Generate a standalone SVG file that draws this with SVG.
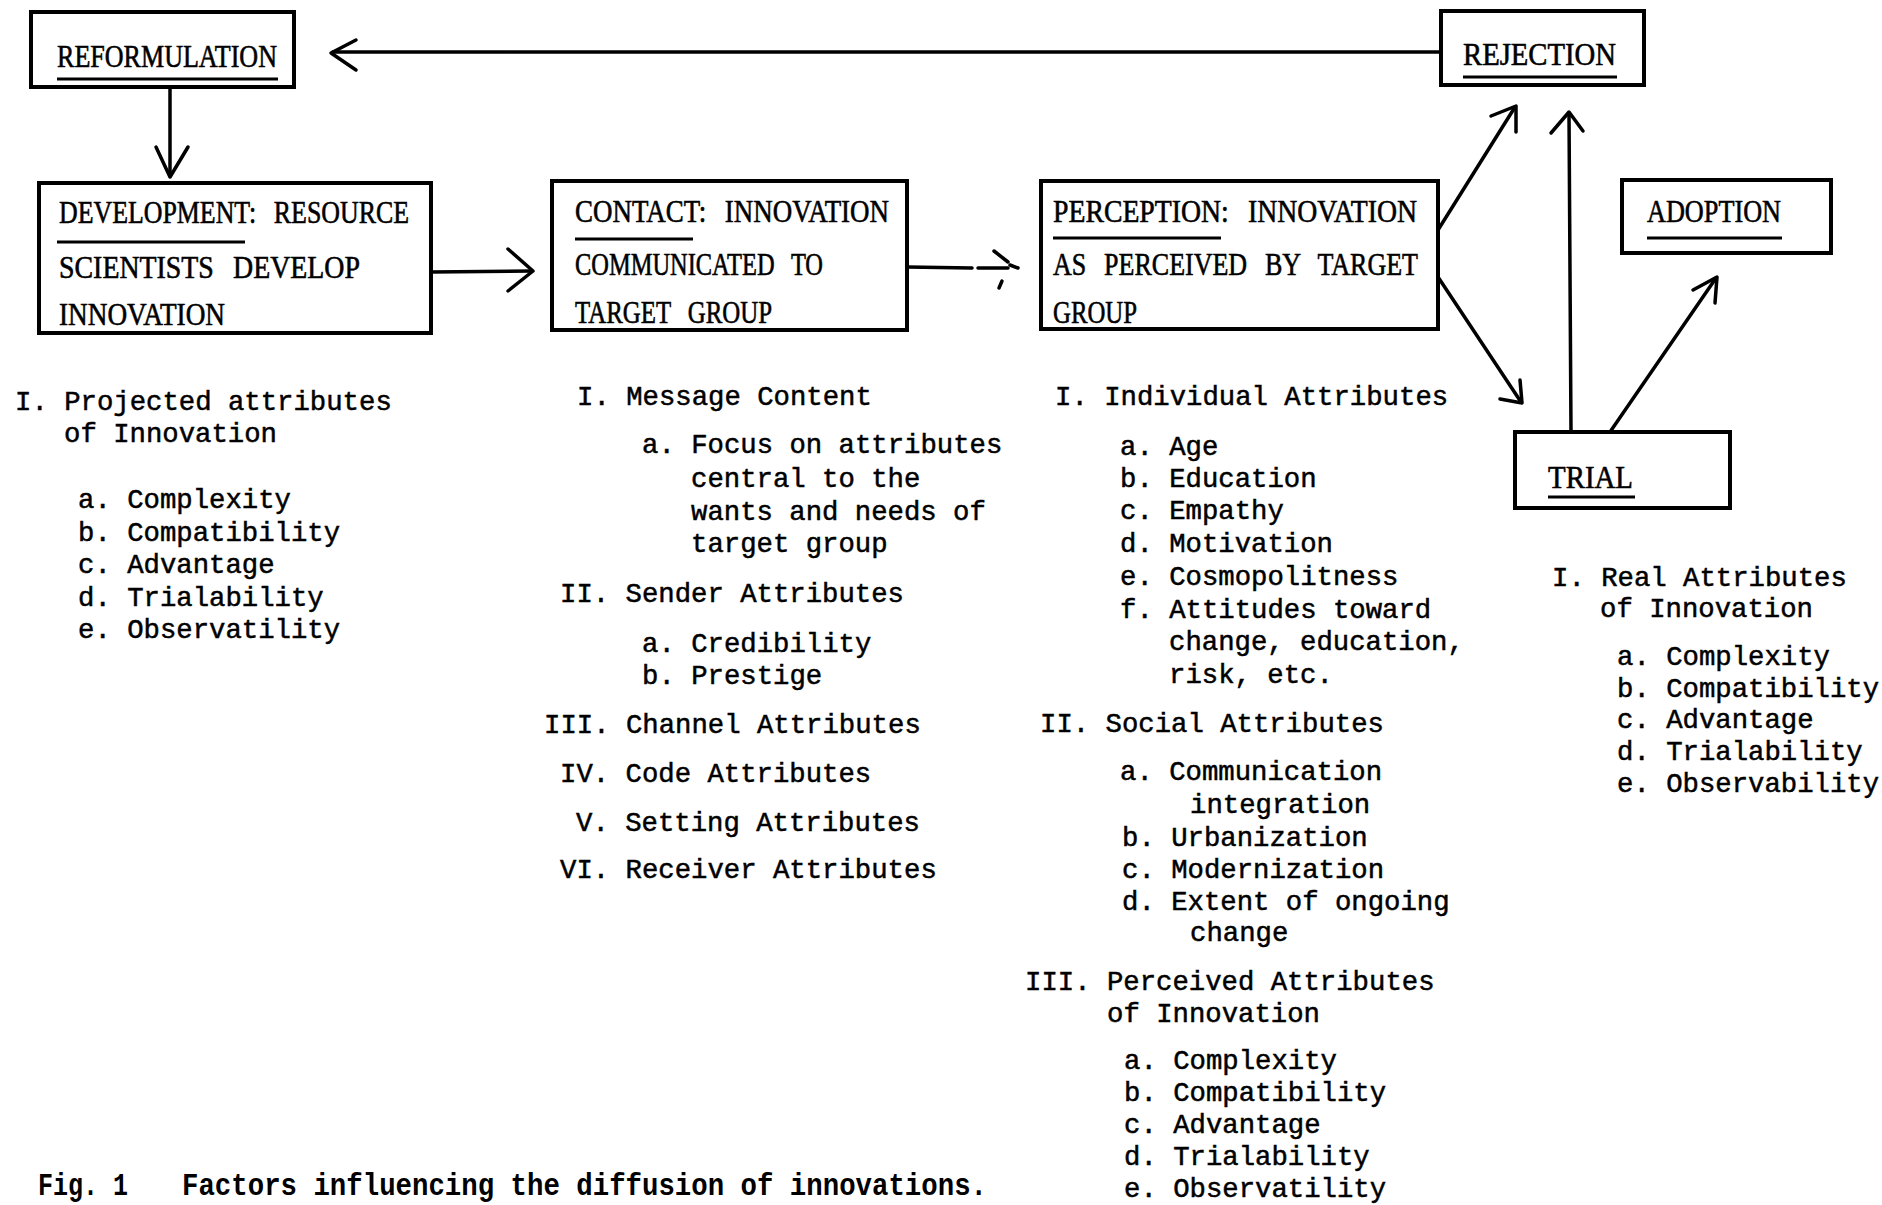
<svg xmlns="http://www.w3.org/2000/svg" width="1882" height="1205" viewBox="0 0 1882 1205">
<style>
.box{fill:none;stroke:#000;stroke-width:4;stroke-linejoin:miter}
.bt{font-family:"Liberation Serif",serif;font-size:32px;fill:#000;stroke:#000;stroke-width:0.6;word-spacing:14px}
.ul{stroke:#000;stroke-width:3;fill:none}
.lt{font-family:"Liberation Mono",monospace;font-size:27.3px;fill:#000;stroke:#000;stroke-width:0.5;white-space:pre}
.cap{font-family:"Liberation Mono",monospace;font-size:32px;font-weight:bold;fill:#000}
.cn{fill:none;stroke:#000;stroke-width:3.5;stroke-linecap:round;stroke-linejoin:round}
</style>
<rect x="0" y="0" width="1882" height="1205" fill="#fff"/>

<g id="connectors">
  <!-- rejection -> reformulation -->
  <path class="cn" d="M1441,52 L333,52"/>
  <path class="cn" d="M356,40 L331,53 L356,70"/>
  <!-- reformulation -> development -->
  <path class="cn" d="M170,87 L170,176"/>
  <path class="cn" d="M156,147 L170,177 L188,147"/>
  <!-- development -> contact -->
  <path class="cn" d="M431,272 L531,271"/>
  <path class="cn" d="M508,249 L533,271 L508,291"/>
  <!-- contact -> perception -->
  <path class="cn" d="M907,267 L972,268"/>
  <path class="cn" d="M978,268 L1008,268"/>
  <path class="cn" d="M994,251 L1008,262"/>
  <path class="cn" d="M1010,265 L1018,268"/>
  <path class="cn" d="M1002,281 L999,288"/>
  <!-- perception -> rejection -->
  <path class="cn" d="M1438,230 L1515,107"/>
  <path class="cn" d="M1491,116 L1516,106 L1516,132"/>
  <!-- perception -> trial -->
  <path class="cn" d="M1438,277 L1521,402"/>
  <path class="cn" d="M1500,399 L1522,403 L1520,380"/>
  <!-- trial -> rejection -->
  <path class="cn" d="M1571,432 L1569,113"/>
  <path class="cn" d="M1551,133 L1569,112 L1583,131"/>
  <!-- trial -> adoption -->
  <path class="cn" d="M1610,432 L1716,278"/>
  <path class="cn" d="M1693,290 L1717,277 L1715,303"/>
</g>

<g id="reformulation">
  <rect class="box" x="31" y="12" width="263" height="75"/>
  <text class="bt" x="57" y="67" textLength="220" lengthAdjust="spacingAndGlyphs">REFORMULATION</text>
  <line class="ul" x1="57" y1="79" x2="278" y2="79"/>
</g>

<g id="rejection">
  <rect class="box" x="1441" y="11" width="203" height="74"/>
  <text class="bt" x="1463" y="65" textLength="153" lengthAdjust="spacingAndGlyphs">REJECTION</text>
  <line class="ul" x1="1463" y1="77" x2="1617" y2="77"/>
</g>

<g id="development">
  <rect class="box" x="39" y="183" width="392" height="150"/>
  <text class="bt" x="59" y="223" textLength="350" lengthAdjust="spacingAndGlyphs">DEVELOPMENT: RESOURCE</text>
  <line class="ul" x1="57" y1="242" x2="245" y2="242"/>
  <text class="bt" x="59" y="278" textLength="301" lengthAdjust="spacingAndGlyphs">SCIENTISTS DEVELOP</text>
  <text class="bt" x="59" y="325" textLength="166" lengthAdjust="spacingAndGlyphs">INNOVATION</text>
</g>

<g id="contact">
  <rect class="box" x="552" y="181" width="355" height="149"/>
  <text class="bt" x="575" y="222" textLength="314" lengthAdjust="spacingAndGlyphs">CONTACT: INNOVATION</text>
  <line class="ul" x1="575" y1="239" x2="693" y2="239"/>
  <text class="bt" x="575" y="275" textLength="248" lengthAdjust="spacingAndGlyphs">COMMUNICATED TO</text>
  <text class="bt" x="575" y="323" textLength="197" lengthAdjust="spacingAndGlyphs">TARGET GROUP</text>
</g>

<g id="perception">
  <rect class="box" x="1041" y="181" width="397" height="148"/>
  <text class="bt" x="1053" y="222" textLength="364" lengthAdjust="spacingAndGlyphs">PERCEPTION: INNOVATION</text>
  <line class="ul" x1="1053" y1="238" x2="1221" y2="238"/>
  <text class="bt" x="1053" y="275" textLength="365" lengthAdjust="spacingAndGlyphs">AS PERCEIVED BY TARGET</text>
  <text class="bt" x="1053" y="323" textLength="84" lengthAdjust="spacingAndGlyphs">GROUP</text>
</g>

<g id="adoption">
  <rect class="box" x="1622" y="180" width="209" height="73"/>
  <text class="bt" x="1647" y="222" textLength="134" lengthAdjust="spacingAndGlyphs">ADOPTION</text>
  <line class="ul" x1="1647" y1="238" x2="1782" y2="238"/>
</g>

<g id="trial">
  <rect class="box" x="1515" y="432" width="215" height="76"/>
  <text class="bt" x="1548" y="488" textLength="85" lengthAdjust="spacingAndGlyphs">TRIAL</text>
  <line class="ul" x1="1548" y1="497" x2="1635" y2="497"/>
</g>

<g id="projected-attributes">
  <text class="lt" x="15" y="410">I. Projected attributes</text>
  <text class="lt" x="64" y="442">of Innovation</text>
  <text class="lt" x="78" y="508">a. Complexity</text>
  <text class="lt" x="78" y="541">b. Compatibility</text>
  <text class="lt" x="78" y="573">c. Advantage</text>
  <text class="lt" x="78" y="606">d. Trialability</text>
  <text class="lt" x="78" y="638">e. Observatility</text>
</g>

<g id="contact-attributes">
  <text class="lt" x="577" y="405">I. Message Content</text>
  <text class="lt" x="642" y="453">a. Focus on attributes</text>
  <text class="lt" x="691" y="487">central to the</text>
  <text class="lt" x="691" y="520">wants and needs of</text>
  <text class="lt" x="691" y="552">target group</text>
  <text class="lt" x="560" y="602">II. Sender Attributes</text>
  <text class="lt" x="642" y="652">a. Credibility</text>
  <text class="lt" x="642" y="684">b. Prestige</text>
  <text class="lt" x="544" y="733">III. Channel Attributes</text>
  <text class="lt" x="560" y="782">IV. Code Attributes</text>
  <text class="lt" x="576" y="831">V. Setting Attributes</text>
  <text class="lt" x="560" y="878">VI. Receiver Attributes</text>
</g>

<g id="perception-attributes">
  <text class="lt" x="1055" y="405">I. Individual Attributes</text>
  <text class="lt" x="1120" y="455">a. Age</text>
  <text class="lt" x="1120" y="487">b. Education</text>
  <text class="lt" x="1120" y="519">c. Empathy</text>
  <text class="lt" x="1120" y="552">d. Motivation</text>
  <text class="lt" x="1120" y="585">e. Cosmopolitness</text>
  <text class="lt" x="1120" y="618">f. Attitudes toward</text>
  <text class="lt" x="1169" y="650">change, education,</text>
  <text class="lt" x="1169" y="683">risk, etc.</text>
  <text class="lt" x="1040" y="732">II. Social Attributes</text>
  <text class="lt" x="1120" y="780">a. Communication</text>
  <text class="lt" x="1190" y="813">integration</text>
  <text class="lt" x="1122" y="846">b. Urbanization</text>
  <text class="lt" x="1122" y="878">c. Modernization</text>
  <text class="lt" x="1122" y="910">d. Extent of ongoing</text>
  <text class="lt" x="1190" y="941">change</text>
  <text class="lt" x="1025" y="990">III. Perceived Attributes</text>
  <text class="lt" x="1107" y="1022">of Innovation</text>
  <text class="lt" x="1124" y="1069">a. Complexity</text>
  <text class="lt" x="1124" y="1101">b. Compatibility</text>
  <text class="lt" x="1124" y="1133">c. Advantage</text>
  <text class="lt" x="1124" y="1165">d. Trialability</text>
  <text class="lt" x="1124" y="1197">e. Observatility</text>
</g>

<g id="trial-attributes">
  <text class="lt" x="1552" y="586">I. Real Attributes</text>
  <text class="lt" x="1600" y="617">of Innovation</text>
  <text class="lt" x="1617" y="665">a. Complexity</text>
  <text class="lt" x="1617" y="697">b. Compatibility</text>
  <text class="lt" x="1617" y="728">c. Advantage</text>
  <text class="lt" x="1617" y="760">d. Trialability</text>
  <text class="lt" x="1617" y="792">e. Observability</text>
</g>

<g id="caption">
  <text class="cap" y="1195"><tspan x="38" textLength="90" lengthAdjust="spacingAndGlyphs">Fig. 1</tspan><tspan x="182" textLength="805" lengthAdjust="spacingAndGlyphs">Factors influencing the diffusion of innovations.</tspan></text>
</g>
</svg>
